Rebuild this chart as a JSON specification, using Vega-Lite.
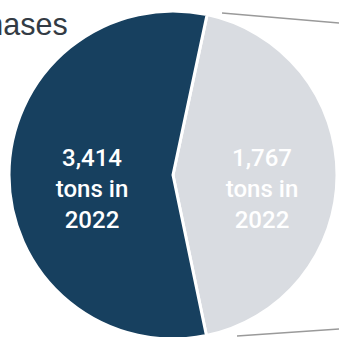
{
  "$schema": "https://vega.github.io/schema/vega-lite/v6.json",
  "width": 332,
  "height": 324,
  "padding": {"left": 7, "top": 13, "right": 0, "bottom": 0},
  "autosize": {"type": "none"},
  "background": "white",
  "title": {
    "text": "purchases",
    "anchor": "start",
    "frame": "group",
    "baseline": "top",
    "dx": -80,
    "dy": 36,
    "offset": 0,
    "font": "Liberation Sans, Arial, sans-serif",
    "fontSize": 30.5,
    "fontWeight": "normal",
    "color": "#333b44"
  },
  "datasets": {
    "slices": [
      {"name": "Other", "rank": 1, "tons": 1767, "share": 43.4, "label": "1,767|tons in|2022"},
      {"name": "Main", "rank": 2, "tons": 3414, "share": 56.6, "label": "3,414|tons in|2022"}
    ],
    "connectors": [
      {"x1": 215, "y1": 0, "x2": 332, "y2": 10},
      {"x1": 230, "y1": 323, "x2": 332, "y2": 316}
    ]
  },
  "layer": [
    {
      "data": {"name": "slices"},
      "mark": {"type": "arc", "outerRadius": 164, "stroke": "white", "strokeWidth": 3},
      "encoding": {
        "theta": {"field": "share", "type": "quantitative", "stack": true, "scale": {"range": [0.2094, 6.4926]}},
        "order": {"field": "rank", "type": "quantitative"},
        "color": {"field": "name", "type": "nominal", "scale": {"domain": ["Other", "Main"], "range": ["#d9dce1", "#17405f"]}, "legend": null}
      }
    },
    {
      "data": {"name": "slices"},
      "mark": {"type": "text", "radius": 85, "dx": 4, "dy": -16, "lineBreak": "|", "lineHeight": 31, "font": "Roboto, sans-serif", "fontSize": 24, "fontWeight": 500, "align": "center", "baseline": "middle"},
      "encoding": {
        "theta": {"field": "share", "type": "quantitative", "stack": true},
        "order": {"field": "rank", "type": "quantitative"},
        "text": {"field": "label", "type": "nominal"},
        "color": {"value": "#ffffff"}
      }
    },
    {
      "data": {"name": "connectors"},
      "mark": {"type": "rule", "color": "#9a9a9a", "strokeWidth": 1.5},
      "encoding": {
        "x": {"field": "x1", "type": "quantitative", "scale": {"domain": [0, 332], "nice": false, "zero": false}, "axis": null},
        "x2": {"field": "x2"},
        "y": {"field": "y1", "type": "quantitative", "scale": {"domain": [0, 324], "nice": false, "zero": false, "reverse": true}, "axis": null},
        "y2": {"field": "y2"}
      }
    }
  ],
  "config": {"view": {"stroke": null}}
}
